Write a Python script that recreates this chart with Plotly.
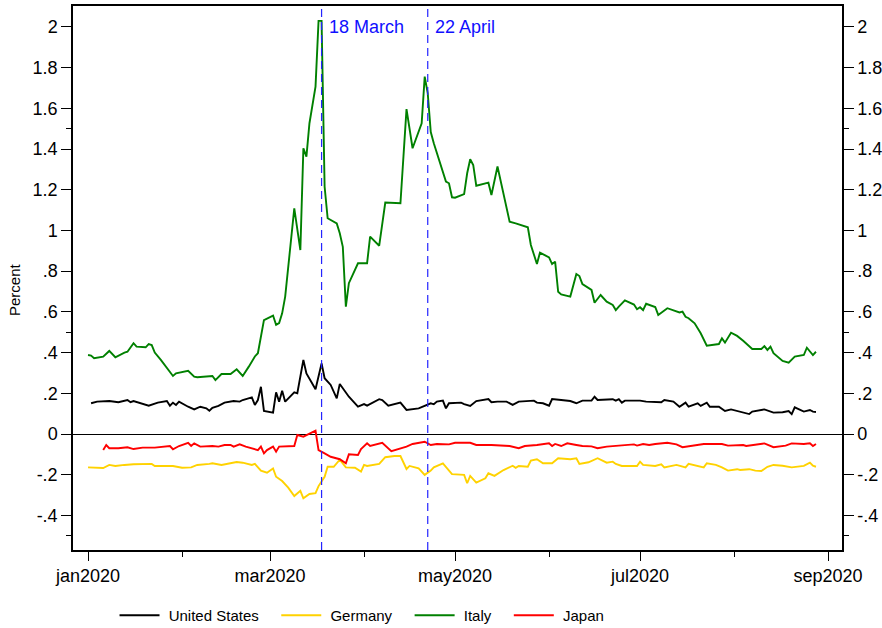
import pandas as pd
import plotly.graph_objects as go

# ---------------- data (day offsets from 1 Jan 2020, spread in percent) ----------------
start_date = "2020-01-01"

italy_day = [0, 1, 2, 5, 7, 9, 12, 13, 15, 16, 19, 20, 21, 22, 24, 26, 28, 29, 33, 35, 36, 41, 42, 44, 47,
             49, 51, 53, 55, 56, 58, 61, 62, 63, 64, 65, 68, 70, 71, 72, 73, 75, 76, 77, 78, 79, 82, 83, 84,
             85, 86, 89, 92, 93, 96, 98, 103, 105, 107, 110, 111, 112, 113, 114, 116, 118, 119, 120, 121,
             124, 125, 126, 127, 128, 132, 133, 135, 137, 139, 141, 145, 146, 148, 149, 152, 153, 154, 155,
             156, 159, 161, 162, 163, 166, 167, 169, 171, 173, 174, 175, 177, 180, 181, 182, 183, 184, 187,
             188, 191, 195, 196, 197, 198, 200, 202, 204, 208, 209, 210, 212, 214, 216, 219, 222, 223, 224,
             225, 226, 229, 231, 233, 236, 237, 239, 240]
italy_val = [.388, .385, .372, .380, .408, .377, .400, .404, .446, .429, .426, .442, .437, .400, .364, .323,
             .285, .298, .311, .282, .279, .285, .265, .295, .295, .318, .285, .331, .381, .397, .560, .582,
             .536, .545, .593, .675, 1.109, .904, 1.404, 1.363, 1.527, 1.707, 2.030, 2.030, 1.215, 1.060,
             1.035, .986, .920, .626, .741, .839, .839, .970, .925, 1.137, 1.134, 1.596, 1.404, 1.527, 1.756,
             1.674, 1.484, 1.429, 1.330, 1.240, 1.232, 1.163, 1.161, 1.179, 1.281, 1.350, 1.322, 1.220, 1.235,
             1.174, 1.314, 1.183, 1.043, 1.035, 1.016, .929, .835, .891, .868, .835, .847, .699, .686, .675,
             .786, .776, .737, .708, .645, .683, .650, .634, .609, .626, .657, .636, .613, .623, .609, .640,
             .624, .585, .618, .597, .601, .576, .569, .544, .495, .434, .442, .470, .449, .498, .482, .458,
             .418, .418, .432, .413, .429, .397, .359, .350, .380, .388, .424, .388, .404]

us_day = [1, 3, 7, 10, 13, 14, 15, 20, 23, 26, 27, 28, 29, 30, 33, 35, 37, 39, 40, 41, 43, 45, 48, 50, 51,
          54, 55, 56, 57, 58, 61, 62, 63, 64, 65, 68, 69, 71, 72, 75, 77, 78, 80, 82, 83, 86, 89, 91, 92, 96,
          97, 99, 103, 105, 109, 112, 113, 114, 115, 117, 118, 119, 123, 124, 126, 128, 132, 133, 135, 138,
          140, 142, 147, 148, 150, 152, 153, 156, 159, 161, 163, 166, 167, 168, 173, 174, 175, 176, 177, 182,
          184, 189, 190, 193, 195, 197, 198, 201, 202, 204, 205, 208, 210, 212, 214, 217, 218, 219, 222, 223,
          226, 229, 231, 232, 233, 236, 238, 239, 240]
us_val = [.151, .159, .162, .156, .167, .156, .162, .139, .154, .162, .139, .154, .143, .159, .134, .121,
          .134, .126, .114, .129, .138, .154, .162, .159, .167, .180, .143, .167, .232, .113, .105, .205,
          .159, .213, .159, .205, .200, .364, .298, .220, .347, .274, .241, .175, .246, .183, .134, .147,
          .139, .171, .167, .139, .154, .118, .126, .143, .151, .146, .159, .164, .126, .151, .154, .147,
          .138, .162, .172, .156, .159, .159, .143, .159, .164, .154, .151, .139, .172, .167, .162, .151,
          .164, .164, .183, .167, .171, .164, .171, .154, .164, .164, .159, .156, .167, .159, .134, .154,
          .134, .151, .138, .154, .134, .134, .113, .121, .114, .102, .098, .110, .118, .121, .105, .107,
          .113, .098, .131, .110, .118, .110, .108]

germany_day = [0, 5, 7, 9, 12, 15, 21, 22, 28, 31, 34, 36, 40, 41, 44, 47, 49, 51, 54, 55, 57, 59, 61, 62,
               64, 66, 68, 70, 71, 73, 75, 76, 78, 79, 81, 83, 85, 88, 90, 91, 92, 96, 98, 101, 103, 105, 106,
               109, 111, 113, 114, 117, 120, 124, 125, 126, 128, 131, 132, 134, 137, 140, 141, 142, 145, 146,
               148, 150, 153, 155, 159, 161, 162, 165, 168, 171, 173, 174, 176, 181, 182, 183, 187, 189, 190,
               194, 197, 198, 201, 203, 204, 207, 209, 211, 214, 215, 218, 220, 222, 224, 226, 229, 232, 236,
               238, 239, 240]
germany_val = [-.164, -.167, -.152, -.157, -.152, -.149, -.147, -.157, -.157, -.166, -.164, -.152, -.147,
               -.144, -.152, -.144, -.138, -.141, -.152, -.147, -.180, -.190, -.169, -.210, -.231, -.264,
               -.305, -.279, -.316, -.295, -.291, -.256, -.210, -.161, -.161, -.126, -.164, -.166, -.185,
               -.152, -.157, -.147, -.114, -.108, -.108, -.172, -.157, -.169, -.201, -.180, -.164, -.144,
               -.197, -.201, -.242, -.206, -.239, -.218, -.193, -.206, -.177, -.156, -.166, -.157, -.161,
               -.131, -.124, -.144, -.144, -.119, -.124, -.119, -.147, -.139, -.119, -.141, -.136, -.147,
               -.157, -.157, -.136, -.152, -.157, -.149, -.164, -.152, -.164, -.147, -.157, -.164, -.144,
               -.152, -.164, -.180, -.173, -.177, -.173, -.180, -.182, -.161, -.152, -.156, -.164, -.157,
               -.141, -.156, -.161]

japan_day = [5, 6, 7, 10, 13, 15, 18, 22, 27, 28, 30, 33, 34, 35, 37, 41, 43, 45, 47, 48, 50, 52, 56, 57, 58,
             59, 61, 62, 63, 66, 68, 69, 71, 75, 76, 78, 80, 83, 85, 86, 89, 90, 92, 93, 96, 97, 100, 102,
             105, 107, 110, 111, 113, 115, 119, 121, 126, 128, 133, 139, 142, 144, 148, 150, 152, 153, 154,
             156, 158, 161, 163, 166, 168, 171, 174, 177, 180, 181, 183, 185, 187, 191, 194, 196, 199, 203,
             206, 209, 211, 216, 217, 219, 223, 226, 229, 230, 232, 236, 238, 239, 240]
japan_val = [-.079, -.054, -.070, -.070, -.065, -.074, -.067, -.067, -.059, -.075, -.059, -.043, -.059,
             -.046, -.062, -.059, -.062, -.054, -.054, -.062, -.051, -.062, -.079, -.062, -.095, -.079,
             -.062, -.087, -.062, -.059, -.059, -.005, -.013, .016, -.079, -.095, -.112, -.124, -.144,
             -.100, -.103, -.074, -.046, -.059, -.049, -.043, -.084, -.075, -.062, -.049, -.043, -.038,
             -.054, -.049, -.051, -.043, -.043, -.054, -.054, -.059, -.070, -.059, -.054, -.049, -.046,
             -.059, -.049, -.059, -.046, -.054, -.059, -.061, -.070, -.062, -.059, -.054, -.051, -.057,
             -.049, -.054, -.049, -.043, -.051, -.065, -.057, -.049, -.049, -.049, -.057, -.054, -.059,
             -.054, -.046, -.065, -.057, -.057, -.046, -.049, -.046, -.059, -.049]

series_names = ["United States", "Germany", "Italy", "Japan"]
series_colors = ["#000000", "#FFD200", "#008000", "#FF0000"]

event_dates = ["2020-03-18", "2020-04-22"]
event_labels = ["18 March", "22 April"]

y_tickvals = [-0.4, -0.2, 0, 0.2, 0.4, 0.6, 0.8, 1, 1.2, 1.4, 1.6, 1.8, 2]
y_ticktext = ["-.4", "-.2", "0", ".2", ".4", ".6", ".8", "1", "1.2", "1.4", "1.6", "1.8", "2"]
y_minor = [-0.5, 0.5, 1.5]
x_tickvals = ["2020-01-01", "2020-03-01", "2020-05-01", "2020-07-01", "2020-09-01"]
x_ticktext = ["jan2020", "mar2020", "may2020", "jul2020", "sep2020"]
x_minor = ["2020-02-01", "2020-04-01", "2020-06-01", "2020-08-01"]


def to_dates(days):
    return pd.Timestamp(start_date) + pd.to_timedelta(days, unit="D")


series = [(us_day, us_val), (germany_day, germany_val), (italy_day, italy_val), (japan_day, japan_val)]

NB = "\u00a0"
fig = go.Figure()
for (d, v), name, col in zip(series, series_names, series_colors):
    fig.add_trace(go.Scatter(x=to_dates(d), y=v, mode="lines", name=NB + name + NB * 3,
                             line=dict(color=col, width=1.9)))

# dummy trace for the right-hand axis
fig.add_trace(go.Scatter(x=[None], y=[None], yaxis="y2", showlegend=False, hoverinfo="skip"))

FONT = "Liberation Sans, Arial, sans-serif"
x_range = ["2019-12-27 01:00", "2020-09-05 14:00"]
y_range = [-0.570, 2.103]
tickfont = dict(family=FONT, size=18, color="black")

for dt, lab in zip(event_dates, event_labels):
    fig.add_shape(type="line", xref="x", yref="paper", x0=dt, x1=dt, y0=0, y1=1,
                  line=dict(color="#2424FF", width=1.2, dash="8px,5px"), layer="above")
    fig.add_annotation(x=dt, y=2.0, xref="x", yref="y", text=lab, showarrow=False,
                       xanchor="left", yanchor="middle", xshift=5,
                       font=dict(family=FONT, size=18, color="#1010FF"))

fig.add_annotation(text="Percent", xref="paper", yref="paper", x=-0.0754, y=0.478,
                   xanchor="center", yanchor="middle", textangle=-90, showarrow=False,
                   font=dict(family=FONT, size=15, color="black"))

fig.update_layout(
    width=882, height=628,
    margin=dict(l=73, r=40, t=6, b=78, autoexpand=False),
    plot_bgcolor="white", paper_bgcolor="white",
    showlegend=True,
    legend=dict(orientation="h", x=0.054, xanchor="left", y=-0.09, yanchor="top",
                itemwidth=40,
                font=dict(family=FONT, size=15, color="black"),
                bgcolor="rgba(0,0,0,0)"),
    xaxis=dict(type="date", range=x_range, tickmode="array", tickvals=x_tickvals, ticktext=x_ticktext,
               ticks="outside", ticklen=9, tickwidth=1.3, tickcolor="black", automargin=False,
               minor=dict(tickvals=x_minor, ticks="outside", ticklen=5, tickwidth=1.3, tickcolor="black"),
               showgrid=False, showline=True, linecolor="black", linewidth=1.5, mirror=True,
               tickfont=tickfont, zeroline=False),
    yaxis=dict(range=y_range, tickmode="array", tickvals=y_tickvals, ticktext=y_ticktext,
               ticks="outside", ticklen=10, tickwidth=1.3, tickcolor="black", automargin=False,
               minor=dict(tickvals=y_minor, ticks="outside", ticklen=5, tickwidth=1.3, tickcolor="black"),
               showgrid=False, showline=True, linecolor="black", linewidth=1.5, mirror=True,
               zeroline=True, zerolinecolor="black", zerolinewidth=1.2,
               tickfont=tickfont),
    yaxis2=dict(range=y_range, overlaying="y", side="right", tickmode="array", tickvals=y_tickvals,
                ticktext=y_ticktext, ticks="outside", ticklen=10, tickwidth=1.3, tickcolor="black",
                automargin=False,
                minor=dict(tickvals=y_minor, ticks="outside", ticklen=5, tickwidth=1.3, tickcolor="black"),
                showgrid=False, showline=True, linecolor="black", linewidth=1.5, zeroline=False,
                tickfont=tickfont),
)

fig.write_html("out.html", config={"displayModeBar": False},
               post_script="document.body.style.margin='0px';")
